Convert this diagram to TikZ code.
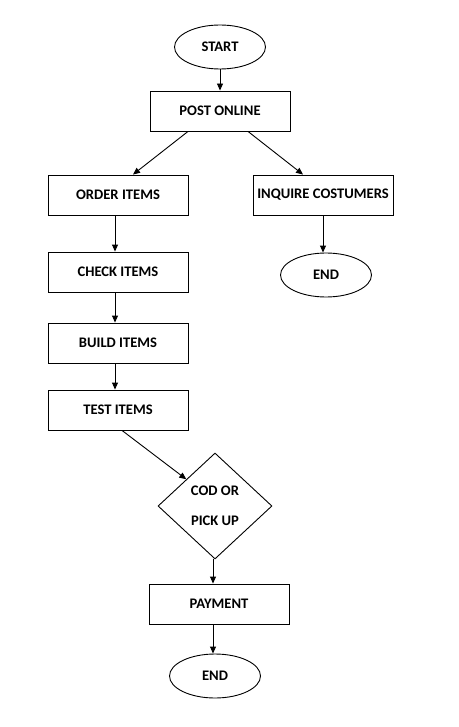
\documentclass[tikz,border=0pt]{standalone}
\usepackage{fontspec}
\setmainfont{Carlito}
\usetikzlibrary{shapes.geometric,arrows.meta}
\tikzset{
  lbl/.style={font=\fontsize{14.6}{17.5}\selectfont\bfseries},
  box/.style={draw, lbl, line width=0.9pt, minimum width=140pt, minimum height=40pt, inner sep=0pt},
  oval/.style={draw, lbl, ellipse, line width=0.9pt, minimum width=91pt, minimum height=44pt, inner sep=0pt},
  decide/.style={draw, lbl, diamond, aspect=1.075, line width=0.9pt, minimum width=114pt, minimum height=106pt, inner sep=0pt, align=center},
  arr/.style={line width=0.9pt, -{Triangle[width=6pt,length=7pt]}}
}
\begin{document}
\begin{tikzpicture}[x=1pt,y=-1pt]
\useasboundingbox (0,0) rectangle (458,727);
\node[oval] (start) at (220,47) {START};
\node[box] (post) at (220,111) {POST ONLINE};
\node[box] (order) at (118,195) {ORDER ITEMS};
\node[box] (inq) at (323,195) {INQUIRE COSTUMERS};
\node[box] (check) at (118,272) {CHECK ITEMS};
\node[oval] (end1) at (326,275) {END};
\node[box] (build) at (118,343) {BUILD ITEMS};
\node[box] (test) at (118,410) {TEST ITEMS};
\node[decide] (dia) at (215,506) {\raisebox{-3pt}{COD OR}\\[12pt]\raisebox{-3pt}{PICK UP}};
\node[box] (pay) at (219,604) {PAYMENT};
\node[oval] (end2) at (215,676) {END};

\draw[arr] (start.south) -- (post.north);
\draw[arr] ([xshift=-32pt]post.south) -- ([xshift=15pt]order.north);
\draw[arr] ([xshift=28pt]post.south) -- ([xshift=-20pt]inq.north);
\draw[arr] ([xshift=-3pt]order.south) -- ([xshift=-3pt]check.north);
\draw[arr] (inq.south) -- (end1.north -| inq.south);
\draw[arr] ([xshift=-3pt]check.south) -- ([xshift=-3pt]build.north);
\draw[arr] ([xshift=-3pt]build.south) -- ([xshift=-3pt]test.north);
\draw[arr] ([xshift=4pt]test.south) -- (dia.north west);
\draw[arr] ([xshift=-2pt]dia.south) -- ([xshift=-6pt]pay.north);
\draw[arr] ([xshift=-6pt]pay.south) -- ([xshift=-2pt]end2.north);
\end{tikzpicture}
\end{document}
